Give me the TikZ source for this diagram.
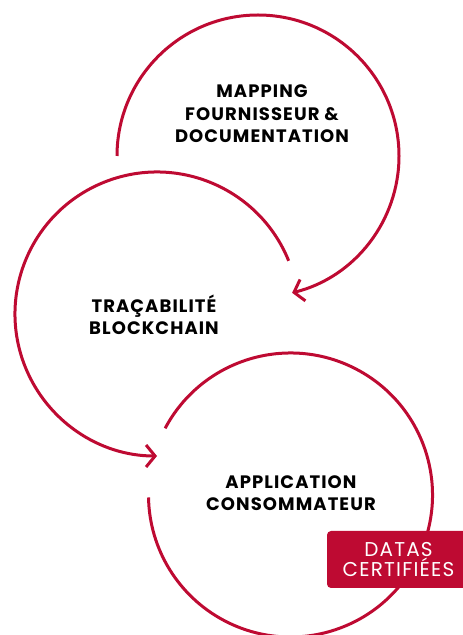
\documentclass[tikz,border=0pt]{standalone}
\usepackage{fontspec}
\setmainfont{Poppins}
\newfontfamily\stepfont{Poppins}[LetterSpace=6]
\newfontfamily\badgefont{Poppins}[LetterSpace=6]
\usetikzlibrary{arrows.meta}
\definecolor{crimson}{RGB}{190,10,50}
\begin{document}
\begin{tikzpicture}[x=1pt,y=1pt,
  ring/.style={draw=crimson, line width=3pt},
  ringarrow/.style={ring, -{Straight Barb[length=9pt,width=22pt]}},
  steplabel/.style={align=center, inner sep=0pt, font=\stepfont\fontsize{18}{22.5}\selectfont\bfseries, text=black},
  badge/.style={fill=crimson, rounded corners=4pt, text=white, align=center, inner sep=0pt,
    minimum width=143pt, minimum height=57pt, font=\badgefont\fontsize{20}{20.5}\selectfont}]
\useasboundingbox (0,0) rectangle (463,635);
\coordinate (c1) at (258,479);
\coordinate (c2) at (157,321);
\coordinate (c3) at (290.5,140);
% rings
\draw[ringarrow] ([shift={(180:141)}]c1) arc[start angle=180,end angle=-76,radius=141];
\draw[ringarrow] ([shift={(22:142)}]c2) arc[start angle=22,end angle=270,radius=142];
\draw[ring] ([shift={(152:142)}]c3) arc[start angle=152,end angle=-179,radius=142];
% labels
\node[steplabel] (mapping) at (262,521) {MAPPING\\FOURNISSEUR \&\\DOCUMENTATION};
\node[steplabel] (trace) at (154,320) {TRAÇABILITÉ\\BLOCKCHAIN};
\node[steplabel] (app) at (291,142) {APPLICATION\\CONSOMMATEUR};
\node[badge] (datas) at (398.5,75.5) {DATAS\\CERTIFIÉES};
\end{tikzpicture}
\end{document}
